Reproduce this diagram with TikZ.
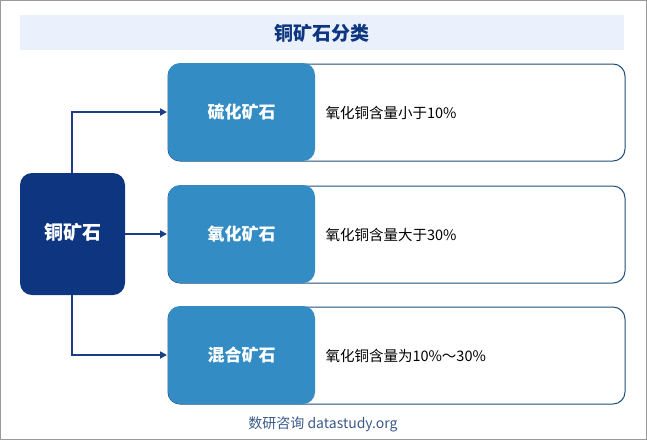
\documentclass[tikz,border=0pt]{standalone}
\usepackage{fontspec}
\newfontfamily\cjk{Noto Sans CJK SC}
\usetikzlibrary{arrows.meta}
\definecolor{navy}{HTML}{0D3580}
\definecolor{midblue}{HTML}{348CC4}
\definecolor{edgeblue}{HTML}{1F4E79}
\definecolor{bandblue}{HTML}{EAF1FC}
\definecolor{linkblue}{HTML}{1B3F86}
\definecolor{footc}{HTML}{3A5A8A}
\tikzset{
  mainbox/.style={fill=navy, rounded corners=12pt, draw=none},
  labbox/.style={fill=midblue, rounded corners=12pt, draw=none},
  descbox/.style={draw=edgeblue, line width=1pt, rounded corners=12pt, fill=white},
  labtext/.style={text=white, font=\cjk\bfseries\fontsize{17}{20}\selectfont},
  desctext/.style={text=black, font=\cjk\fontsize{14.5}{17}\selectfont, anchor=west},
  link/.style={draw=linkblue, line width=2pt, -{Triangle[length=7pt,width=7pt]}}
}
\begin{document}
\begin{tikzpicture}[x=1pt,y=-1pt]
\useasboundingbox (0,0) rectangle (647,440);
\draw[gray!80, line width=1pt] (0.5,0.5) rectangle (646.5,439.5);
% title band
\fill[bandblue] (20,15) rectangle (624,50);
\node (title) at (322,33) {\cjk\bfseries\fontsize{19}{22}\selectfont\color{navy}铜矿石分类};
% description boxes (drawn first so label boxes overlap)
\draw[descbox] (168,64) rectangle (625,161);
\draw[descbox] (168,186) rectangle (625,283);
\draw[descbox] (168,307) rectangle (625,404);
% label boxes
\path[labbox] (168,63) rectangle (315,161);
\node[labtext] (b1) at (241.5,112) {硫化矿石};
\path[labbox] (168,185) rectangle (315,283);
\node[labtext] (b2) at (241.5,234) {氧化矿石};
\path[labbox] (168,306) rectangle (315,404);
\node[labtext] (b3) at (241.5,355) {混合矿石};
\coordinate (b1w) at (167,112);
\coordinate (b2w) at (167,234);
\coordinate (b3w) at (167,355);
% descriptions
\node[desctext] (d1) at (322,113) {氧化铜含量小于10\%};
\node[desctext] (d2) at (322,235) {氧化铜含量大于30\%};
\node[desctext] (d3) at (322,356) {氧化铜含量为10\%～30\%};
% main box
\path[mainbox] (20,173) rectangle (125,295);
\node[text=white, font=\cjk\bfseries\fontsize{19}{22}\selectfont] (main) at (72.5,232) {铜矿石};
\coordinate (mt) at (72,173);
\coordinate (mr) at (125,234);
\coordinate (mb) at (72,295);
% connectors
\draw[link] (mt) |- (b1w);
\draw[link] (mr) -- (b2w);
\draw[link] (mb) |- (b3w);
% footer
\node[text=footc, font=\cjk\fontsize{14}{17}\selectfont] (foot) at (323,424) {数研咨询 datastudy.org};
\end{tikzpicture}
\end{document}
